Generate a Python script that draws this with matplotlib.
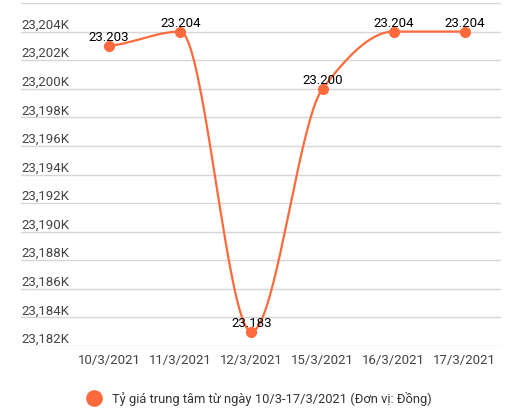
import numpy as np
import matplotlib
matplotlib.use("Agg")
import matplotlib.pyplot as plt
from matplotlib.lines import Line2D

plt.rcParams["font.family"] = ["Roboto", "DejaVu Sans"]

# --- data ---
dates = ["10/3/2021", "11/3/2021", "12/3/2021", "15/3/2021", "16/3/2021", "17/3/2021"]
rates = [23203, 23204, 23183, 23200, 23204, 23204]
point_labels = ["23.203", "23.204", "23.183", "23.200", "23.204", "23.204"]
y_ticks = list(range(23182, 23205, 2))
legend_label = "Tỷ giá trung tâm từ ngày 10/3-17/3/2021 (Đơn vị: Đồng)"

C_LINE = "#ff6a3d"
C_GRID = "#d6d6d6"
C_TICK = "#444444"


def pchip(x, y, n=40):
    """monotone cubic, flat at extremes like the original curve"""
    x = np.asarray(x, float)
    y = np.asarray(y, float)
    h = np.diff(x)
    d = np.diff(y) / h
    m = np.zeros_like(y)
    for i in range(1, len(y) - 1):
        if d[i - 1] * d[i] > 0:
            m[i] = 2 * d[i - 1] * d[i] / (d[i - 1] + d[i])
    m[0] = 0.5 * d[0]
    m[-1] = 0.5 * d[-1]
    xs, ys = [], []
    for i in range(len(h)):
        t = np.linspace(0, 1, n)
        h00 = 2 * t**3 - 3 * t**2 + 1
        h10 = t**3 - 2 * t**2 + t
        h01 = -2 * t**3 + 3 * t**2
        h11 = t**3 - t**2
        xs.append(x[i] + t * h[i])
        ys.append(h00 * y[i] + h10 * h[i] * m[i] + h01 * y[i + 1] + h11 * h[i] * m[i + 1])
    return np.concatenate(xs), np.concatenate(ys)


x = np.arange(len(dates))
fig = plt.figure(figsize=(5.30, 4.16), dpi=100)
ax = fig.add_axes([21 / 530, 70 / 416, 480 / 530, 343 / 416])

xs, ys = pchip(x, rates)
ax.plot(xs, ys, color=C_LINE, lw=1.6, zorder=3, clip_on=False)
ax.plot(x, rates, "o", color=C_LINE, ms=7, zorder=4, clip_on=False)

for xi, v, lab in zip(x, rates, point_labels):
    ax.annotate(lab, (xi, v), xytext=(0, 3.5), textcoords="offset points",
                ha="center", va="baseline", fontsize=9.5, color="black", zorder=5)

ax.set_xlim(-1.24, 5.51)
ax.set_ylim(23182, 23206)
ax.set_yticks(y_ticks + [23206])
ax.yaxis.grid(True, color=C_GRID, lw=1)
ax.set_axisbelow(True)
ax.tick_params(axis="y", length=0, labelleft=False)
for t in y_ticks:
    ax.text(0, t, f"{t:,}K", transform=ax.get_yaxis_transform(),
            ha="left", va="bottom", fontsize=9.5, color=C_TICK)

ax.set_xticks(x)
ax.set_xticklabels(dates, fontsize=9.5, color=C_TICK)
ax.tick_params(axis="x", length=0, pad=6)
for s in ax.spines.values():
    s.set_visible(False)

handle = Line2D([0], [0], marker="o", color=C_LINE, ls="none", ms=11)
fig.legend([handle], [legend_label], loc="center", bbox_to_anchor=(256 / 530, 17 / 416),
           frameon=False, fontsize=9.3, handletextpad=0.4, labelcolor="#333333")

fig.savefig("out.png", dpi=100)
